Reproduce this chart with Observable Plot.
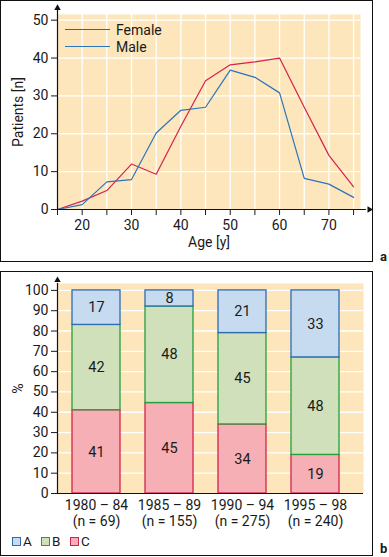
<!DOCTYPE html>
<html>
<head>
<meta charset="utf-8">
<script src="https://cdn.jsdelivr.net/npm/d3@7"></script>
<script src="https://cdn.jsdelivr.net/npm/@observablehq/plot@0.6"></script>
<style>
  html, body { margin: 0; padding: 0; background: #fff; }
  #root { position: relative; width: 389px; height: 557px; font-family: Roboto, sans-serif; color: #1a1a1a; overflow: hidden; }
  .box { position: absolute; border: 1.5px solid #111; box-sizing: border-box; pointer-events: none; }
  .abs { position: absolute; }
  .tag { position: absolute; font: bold 13px Roboto, sans-serif; }
  .leg { position: absolute; font-size: 14px; line-height: 16px; }
  .sw { position: absolute; width: 9px; height: 9px; box-sizing: border-box; border: 1.2px solid; }
</style>
</head>
<body>
<div id="root"></div>
<script>
// ---------- Panel a data ----------
const ages = [15, 20, 25, 30, 35, 40, 45, 50, 55, 60, 65, 70, 75];
const female = [0, 2.2, 5, 12, 9.3, 22, 34, 38.2, 39, 40, 27, 14.3, 6];
const male = [0, 1.3, 7.3, 7.9, 20.2, 26.2, 27, 36.8, 34.9, 30.8, 8.2, 6.7, 3.2];
const seriesNames = ["Female", "Male"];
const ageTicks = [15, 20, 25, 30, 35, 40, 45, 50, 55, 60, 65, 70, 75];
const patientTicks = [0, 10, 20, 30, 40, 50];

// ---------- Panel b data ----------
const periods = ["1980 – 84", "1985 – 89", "1990 – 94", "1995 – 98"];
const periodN = [69, 155, 275, 240];
const cats = ["C", "B", "A"]; // bottom to top
const valC = [41, 45, 34, 19];
const valB = [42, 48, 45, 48];
const valA = [17, 8, 21, 33];
const pctTicks = [0, 10, 20, 30, 40, 50, 60, 70, 80, 90, 100];

const bg = "#fde6bb";
const colFemale = "#d4234f";
const colMale = "#2b74bb";
const fillCol = {A: "#c6daf0", B: "#cfe0bb", C: "#f5afb5"};
const strokeCol = {A: "#2b6cb3", B: "#22a03c", C: "#d4234f"};

const root = document.getElementById("root");

// ---------- Panel a ----------
const lineRows = [];
ages.forEach((a, i) => {
  lineRows.push({age: a, n: female[i], s: "Female"});
  lineRows.push({age: a, n: male[i], s: "Male"});
});

const plotA = Plot.plot({
  width: 372,
  height: 261,
  marginLeft: 57,
  marginRight: 12,
  marginTop: 14,
  marginBottom: 52,
  style: {fontFamily: "Roboto, sans-serif", fontSize: "14px", color: "#1a1a1a", background: "transparent", overflow: "visible"},
  x: {domain: [15, 76.4]},
  y: {domain: [0, 51.5]},
  color: {domain: seriesNames, range: [colFemale, colMale]},
  marks: [
    Plot.frame({fill: bg, stroke: null}),
    Plot.ruleX(ageTicks.filter(d => d > 15), {stroke: "#fff", strokeWidth: 1.3}),
    Plot.ruleY(patientTicks.filter(d => d > 0), {stroke: "#fff", strokeWidth: 1.3}),
    Plot.line(lineRows, {x: "age", y: "n", z: "s", stroke: "s", strokeWidth: 1.2}),
    Plot.ruleX([15], {y1: 0, y2: 52.6, stroke: "#111", strokeWidth: 1.2}),
    Plot.ruleY([0], {x1: 15, x2: 77.6, stroke: "#111", strokeWidth: 1.2}),
    Plot.dot([15], {x: d => d, y: 53.2, symbol: "triangle", r: 2.4, fill: "#111", stroke: null}),
    Plot.dot([0], {x: 78.2, y: d => d, symbol: "triangle", r: 2.4, fill: "#111", stroke: null, rotate: 90}),
    Plot.axisX({ticks: ageTicks, tickSize: 6, tickPadding: 5, tickFormat: d => d % 10 === 0 ? String(d) : "",
      label: "Age [y]", labelAnchor: "center", labelArrow: "none", labelOffset: 37}),
    Plot.axisY({ticks: patientTicks, tickSize: 6, tickPadding: 3,
      label: "Patients [n]", labelAnchor: "center", labelArrow: "none", labelOffset: 44})
  ]
});
plotA.classList.add("abs");
plotA.style.left = "0px";
plotA.style.top = "0px";
root.appendChild(plotA);

// legend a
const legA = [{name: "Female", col: colFemale, y: 30}, {name: "Male", col: colMale, y: 47}];
legA.forEach(l => {
  const ln = document.createElement("div");
  ln.className = "abs";
  Object.assign(ln.style, {left: "65px", top: (l.y - 0.6) + "px", width: "45px", height: "0px", borderTop: "1.2px solid " + l.col});
  root.appendChild(ln);
  const t = document.createElement("div");
  t.className = "leg";
  t.textContent = l.name;
  Object.assign(t.style, {left: "116px", top: (l.y - 8) + "px"});
  root.appendChild(t);
});

const boxA = document.createElement("div");
boxA.className = "box";
Object.assign(boxA.style, {left: "0px", top: "0px", width: "373px", height: "262px"});
root.appendChild(boxA);
const tagA = document.createElement("div");
tagA.className = "tag";
tagA.textContent = "a";
Object.assign(tagA.style, {left: "380px", top: "249px"});
root.appendChild(tagA);

// ---------- Panel b ----------
const barRows = [];
const valsByCat = {A: valA, B: valB, C: valC};
periods.forEach((p, i) => {
  cats.forEach(c => barRows.push({period: p, cat: c, v: valsByCat[c][i]}));
});
const periodLabel = Object.fromEntries(periods.map((p, i) => [p, `${p}\n(n = ${periodN[i]})`]));

const plotB = Plot.plot({
  width: 372,
  height: 284,
  marginLeft: 57,
  marginRight: 9,
  marginTop: 12,
  marginBottom: 62,
  style: {fontFamily: "Roboto, sans-serif", fontSize: "14px", color: "#1a1a1a", background: "transparent", overflow: "visible"},
  x: {domain: periods, paddingInner: 0.345, paddingOuter: 0.26, align: 0.377},
  y: {domain: [0, 1.034]},
  marks: [
    Plot.frame({fill: bg, stroke: null}),
    Plot.ruleY(pctTicks.filter(d => d > 0).map(d => d / 100), {stroke: "#fff", strokeWidth: 1.3}),
    Plot.barY(barRows, Plot.stackY({x: "period", y: "v", z: "cat", order: null, offset: "normalize",
      fill: d => fillCol[d.cat], stroke: d => strokeCol[d.cat], strokeWidth: 1.3})),
    Plot.text(barRows, Plot.stackY({x: "period", y: "v", z: "cat", order: null, offset: "normalize",
      text: d => String(d.v), fill: "#1a1a1a", fontSize: 14.5})),
    Plot.ruleY([0], {stroke: "#111", strokeWidth: 1.2}),
    Plot.frame({anchor: "left", stroke: "#111", strokeWidth: 1.2}),
    Plot.dot([1.05], {y: d => d, frameAnchor: "left", symbol: "triangle", r: 2.4, fill: "#111", stroke: null}),
    Plot.axisX({tickSize: 0, tickPadding: 5, tickFormat: d => periodLabel[d], lineHeight: 1.15, label: null}),
    Plot.axisY({ticks: pctTicks.map(d => d / 100), tickSize: 6, tickPadding: 3, tickFormat: d => String(Math.round(d * 100)),
      label: "%", labelAnchor: "center", labelArrow: "none", labelOffset: 44})
  ]
});
plotB.classList.add("abs");
plotB.style.left = "0px";
plotB.style.top = "271px";
root.appendChild(plotB);

// legend b
const legB = [{c: "A", x: 12}, {c: "B", x: 41}, {c: "C", x: 70}];
legB.forEach(l => {
  const s = document.createElement("div");
  s.className = "sw";
  Object.assign(s.style, {left: l.x + "px", top: "537px", background: fillCol[l.c], borderColor: strokeCol[l.c]});
  root.appendChild(s);
  const t = document.createElement("div");
  t.className = "leg";
  t.textContent = l.c;
  Object.assign(t.style, {left: (l.x + 11) + "px", top: "533px", fontSize: "13.5px"});
  root.appendChild(t);
});

const boxB = document.createElement("div");
boxB.className = "box";
Object.assign(boxB.style, {left: "0px", top: "271px", width: "373px", height: "285px"});
root.appendChild(boxB);
const tagB = document.createElement("div");
tagB.className = "tag";
tagB.textContent = "b";
Object.assign(tagB.style, {left: "380px", top: "541px"});
root.appendChild(tagB);
</script>
</body>
</html>
